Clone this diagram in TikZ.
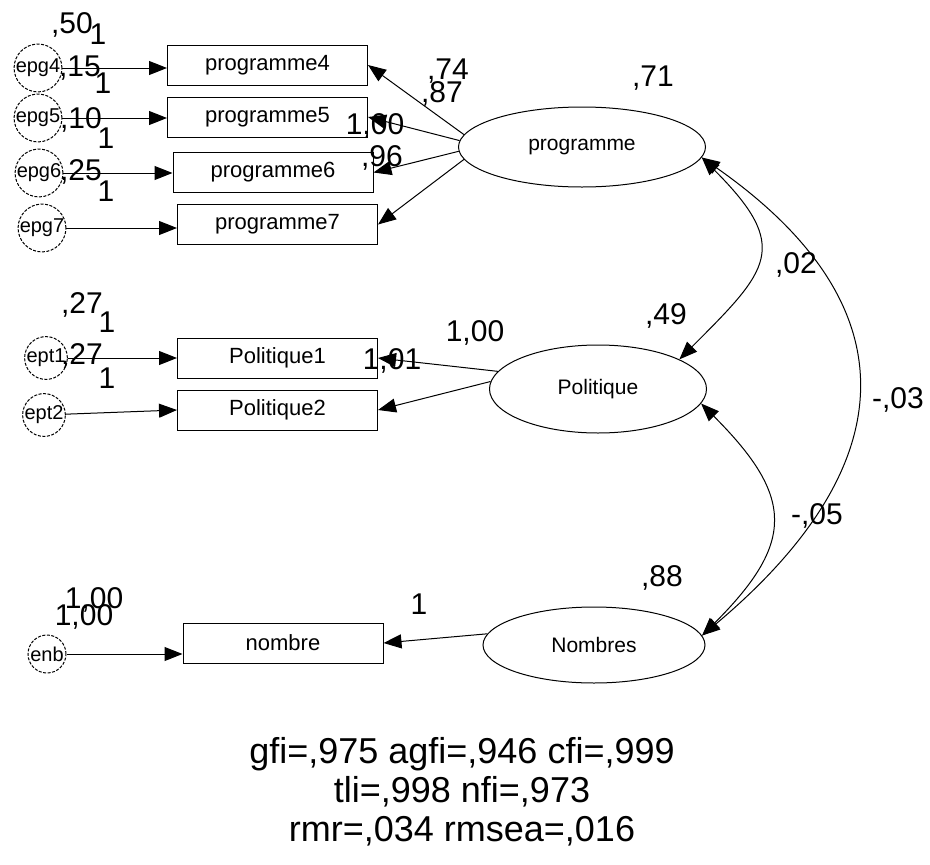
\documentclass[tikz,border=0pt]{standalone}
\usepackage{fontspec}
\setmainfont{Liberation Sans}
\usetikzlibrary{arrows.meta,shapes.geometric}

\begin{document}
\begin{tikzpicture}[x=1pt,y=1pt,line width=1pt,
	obs/.style={draw,rectangle,minimum width=200pt,minimum height=40pt,inner sep=0pt,font=\fontsize{22}{26}\selectfont},
	lat/.style={draw,ellipse,inner sep=0pt,font=\fontsize{21}{25}\selectfont},
	err/.style={draw,circle,dash pattern=on 3pt off 1.5pt,minimum size=38pt,inner sep=0pt,font=\fontsize{20}{24}\selectfont},
	est/.style={inner sep=0pt,font=\fontsize{30}{34}\selectfont},
	reg/.style={-{Triangle[length=18pt,width=14pt]}},
	cov/.style={{Triangle[length=18pt,width=14pt]}-{Triangle[length=18pt,width=14pt]}}]
	\useasboundingbox (0,0) rectangle (930,-865);
	\node[err] (epg4) at (38,-68) {epg4};
	\node[err] (epg5) at (38,-118) {epg5};
	\node[err] (epg6) at (39,-173) {epg6};
	\node[err] (epg7) at (42,-228) {epg7};
	\node[err] (ept1) at (46,-358) {ept1};
	\node[err] (ept2) at (44,-415) {ept2};
	\node[err] (enb) at (47,-654) {enb};
	\node[obs] (programme4) at (267.5,-65) {programme4};
	\node[obs] (programme5) at (267.5,-117) {programme5};
	\node[obs] (programme6) at (273,-172.5) {programme6};
	\node[obs] (programme7) at (277.5,-224.5) {programme7};
	\node[obs] (Politique1) at (277.5,-358) {Politique1};
	\node[obs] (Politique2) at (277.5,-410) {Politique2};
	\node[obs] (nombre) at (283,-643) {nombre};
	\node[lat,minimum width=247pt,minimum height=80pt] (programme) at (582,-147) {programme};
	\node[lat,minimum width=217pt,minimum height=88pt] (Politique) at (598,-389) {Politique};
	\node[lat,minimum width=222pt,minimum height=76pt] (Nombres) at (594,-645) {Nombres};
	\draw[reg] (epg4) -- (epg4 -| programme4.west);
	\draw[reg] (epg5) -- (epg5 -| programme5.west);
	\draw[reg] (epg6) -- (epg6 -| programme6.west);
	\draw[reg] (epg7) -- (epg7 -| programme7.west);
	\draw[reg] (ept1) -- (ept1 -| Politique1.west);
	\draw[reg] (ept2) -- (Politique2.west);
	\draw[reg] (enb) -- (enb -| nombre.west);
	\draw[reg] (programme.174) -- (programme4.east);
	\draw[reg] (programme.177) -- (programme5.east);
	\draw[reg] (programme.182) -- (programme6.east);
	\draw[reg] (programme.186) -- (programme7.east);
	\draw[reg] (Politique.170) -- (Politique1.east);
	\draw[reg] (Politique.176) -- (Politique2.east);
	\draw[reg] (Nombres.174) -- (nombre.east);
	\draw[cov] (programme.-5) to[out=-45,in=45,looseness=1.6] (Politique.20);
	\draw[cov] (Politique.-8) to[out=-45,in=45,looseness=1.45] (Nombres.5);
	\draw[cov] (programme.-5) to[out=-35,in=40,looseness=1.4] (Nombres.5);
	\node[est] (v50) at (72,-25) {,50};
	\node[est] (w4) at (98,-34) {1};
	\node[est] (v15) at (80,-68) {,15};
	\node[est] (w5) at (103,-83) {1};
	\node[est] (v10) at (81,-120) {,10};
	\node[est] (w6) at (106,-138) {1};
	\node[est] (v25) at (81,-172) {,25};
	\node[est] (w7) at (106,-191) {1};
	\node[est] (v27a) at (82,-305) {,27};
	\node[est] (w1) at (107,-322) {1};
	\node[est] (v27b) at (82,-356) {,27};
	\node[est] (w2) at (107,-378) {1};
	\node[est] (v100a) at (94,-600) {1,00};
	\node[est] (v100b) at (84,-617) {1,00};
	\node[est] (l74) at (448,-71) {,74};
	\node[est] (l87) at (442,-94) {,87};
	\node[est] (l100) at (375,-126) {1,00};
	\node[est] (l96) at (382,-158) {,96};
	\node[est] (l101) at (392,-361) {1,01};
	\node[est] (l100b) at (475,-333) {1,00};
	\node[est] (l1) at (419,-604) {1};
	\node[est] (v71) at (653,-78) {,71};
	\node[est] (v49) at (666,-316) {,49};
	\node[est] (v88) at (662,-578) {,88};
	\node[est] (c02) at (796,-265) {,02};
	\node[est] (c05) at (817,-516) {-,05};
	\node[est] (c03) at (898,-400) {-,03};
	\node[font=\fontsize{36}{39}\selectfont,align=center] (fit) at (462,-792) {gfi=,975 agfi=,946 cfi=,999\\tli=,998 nfi=,973\\rmr=,034 rmsea=,016};
\end{tikzpicture}
\end{document}
